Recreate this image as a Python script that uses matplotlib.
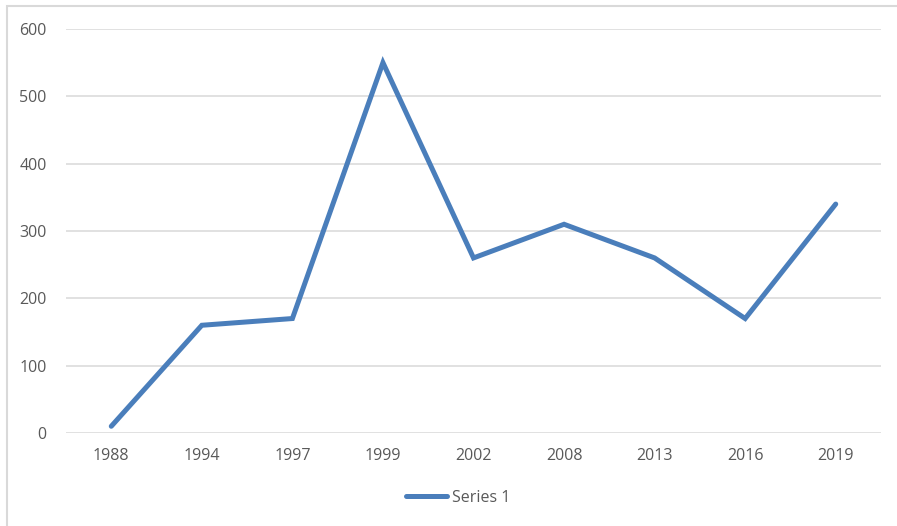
import matplotlib
matplotlib.use("Agg")
import matplotlib.pyplot as plt
from matplotlib.patches import Rectangle

categories = ["1988", "1994", "1997", "1999", "2002", "2008", "2013", "2016", "2019"]
series_1 = [10, 160, 170, 550, 260, 310, 260, 170, 340]
series_name = "Series 1"
y_ticks = [0, 100, 200, 300, 400, 500, 600]

plt.rcParams['font.family'] = ['Open Sans', 'DejaVu Sans']

W, H = 897, 526
fig = plt.figure(figsize=(W / 100, H / 100), dpi=100)
ax = fig.add_axes([66 / W, 1 - 433 / H, (881 - 66) / W, (433 - 29) / H])

x = list(range(len(categories)))
ax.plot(x, series_1, color="#4A7EBB", linewidth=3.6, solid_joinstyle="miter",
        solid_capstyle="round", label=series_name, zorder=3)

ax.set_xlim(-0.5, len(categories) - 0.5)
ax.set_ylim(0, 600)
ax.set_yticks(y_ticks)
ax.set_yticklabels([str(v) for v in y_ticks])
ax.set_xticks(x)
ax.set_xticklabels(categories)

for s in ax.spines.values():
    s.set_visible(False)
ax.grid(axis="y", color="#D9D9D9", linewidth=1.1, zorder=0)
ax.set_axisbelow(True)
ax.tick_params(axis="both", length=0, labelsize=11.5, labelcolor="#595959")
ax.tick_params(axis="y", pad=14)
ax.tick_params(axis="x", pad=11)

leg = fig.legend(loc="center", bbox_to_anchor=(458 / W, 1 - 498 / H), frameon=False,
                 fontsize=11.5, handlelength=2.6, handletextpad=0.3)
for t in leg.get_texts():
    t.set_color("#595959")

border = Rectangle((7 / W, -0.1), 1.2, 1 - 6 / H + 0.1, transform=fig.transFigure,
                   fill=False, edgecolor="#D9D9D9", linewidth=1.5, clip_on=False)
fig.patches.append(border)

fig.savefig("out.png", dpi=100)
